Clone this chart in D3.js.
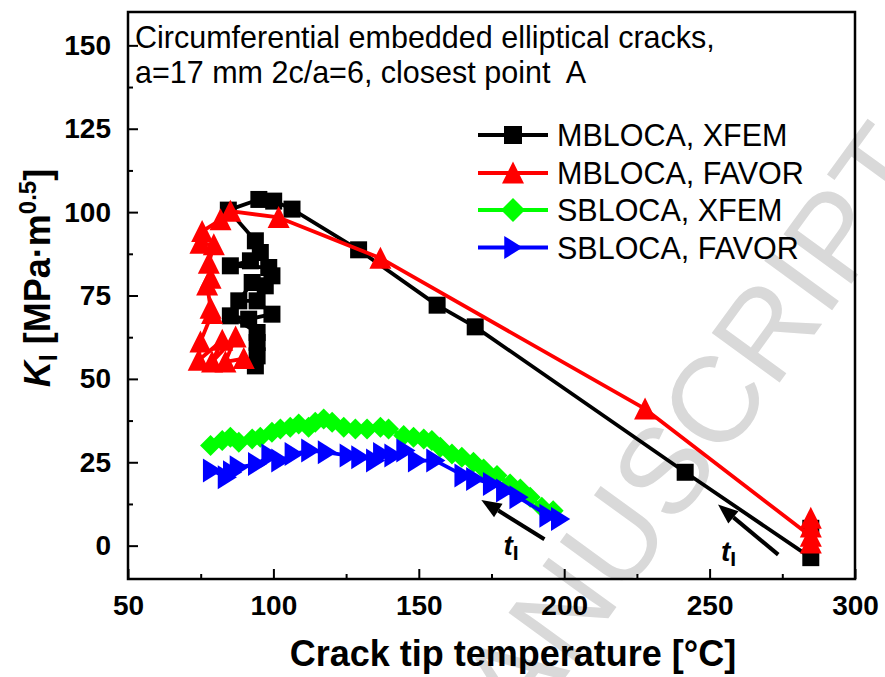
<!DOCTYPE html>
<html>
<head>
<meta charset="utf-8">
<script src="https://cdn.jsdelivr.net/npm/d3@7"></script>
<style>
  html, body { margin: 0; padding: 0; background: #fff; }
  svg { display: block; font-family: "Liberation Sans", Arial, Helvetica, sans-serif; }
</style>
</head>
<body>
<svg id="chart" width="885" height="677"></svg>
<script>
// ---- data ---------------------------------------------------------------
const xTicks = [50, 100, 150, 200, 250, 300];
const xMinorTicks = [75, 125, 175, 225, 275];
const yTicks = [0, 25, 50, 75, 100, 125, 150];
const yMinorTicks = [12.5, 37.5, 62.5, 87.5, 112.5, 137.5];

const seriesNames = ["MBLOCA, XFEM", "MBLOCA, FAVOR", "SBLOCA, XFEM", "SBLOCA, FAVOR"];

// [crack tip temperature (°C), K_I (MPa·m^0.5)], in transient time order
const mblocaXfem = [
  [284.8, 5.2], [284.8, -3.6], [241.6, 22.0], [169.4, 65.6], [156.3, 72.1],
  [129.3, 88.7], [106.4, 100.9], [100.1, 103.3], [95.0, 103.8], [84.5, 100.6],
  [93.8, 91.4], [95.5, 87.9], [92.1, 85.4], [85.2, 83.9], [98.4, 83.4],
  [99.5, 80.9], [97.2, 77.9], [92.7, 78.9], [88.1, 73.4], [94.4, 73.4],
  [99.5, 69.4], [91.5, 67.9], [85.2, 68.9], [94.4, 63.9], [94.4, 60.9],
  [94.4, 56.9], [93.8, 53.9]
];
const mblocaFavor = [
  [284.8, 0.8], [284.8, 8.2], [284.8, 5.6], [284.8, 2.8], [227.8, 41.0],
  [136.8, 86.2], [101.8, 98.4], [85.2, 100.3], [81.8, 97.7], [75.5, 94.2],
  [74.9, 90.7], [79.5, 90.2], [77.8, 84.7], [78.4, 80.2], [77.2, 78.2],
  [78.4, 71.2], [78.9, 69.6], [74.9, 61.1], [74.3, 55.6], [82.4, 61.6],
  [78.9, 55.1], [87.0, 62.6], [83.5, 55.1], [89.8, 56.1]
];
const sblocaXfem = [
  [196.2, 10.5], [192.3, 11.5], [188.3, 14.5], [184.9, 17.0], [181.4, 18.5],
  [176.9, 21.0], [172.3, 23.0], [168.8, 25.0], [164.8, 26.5], [161.4, 27.5],
  [157.4, 29.5], [154.5, 31.5], [151.7, 32.0], [148.2, 32.5], [144.8, 33.0],
  [139.6, 35.0], [136.8, 35.5], [132.2, 35.0], [128.2, 35.0], [124.2, 35.5],
  [120.2, 37.0], [117.3, 38.0], [114.4, 37.0], [112.1, 35.5], [108.7, 36.5],
  [105.8, 35.5], [102.4, 35.0], [99.5, 34.0], [95.5, 32.5], [92.7, 32.0],
  [88.1, 31.0], [85.2, 32.5], [82.4, 31.5], [78.4, 30.0]
];
const sblocaFavor = [
  [198.6, 8.0], [194.6, 9.0], [184.3, 14.5], [179.7, 16.5], [175.2, 18.5],
  [169.4, 20.0], [165.4, 21.0], [155.7, 25.5], [149.4, 25.5], [145.4, 28.5],
  [141.3, 27.0], [137.4, 27.5], [135.0, 25.5], [129.9, 26.5], [125.9, 27.0],
  [118.4, 28.0], [112.7, 28.5], [107.0, 27.5], [102.4, 25.5], [99.0, 27.0],
  [94.4, 24.5], [88.1, 23.5], [85.8, 22.0], [84.0, 20.5], [78.9, 22.5]
];

const noteLines = ["Circumferential embedded elliptical cracks,", "a=17 mm 2c/a=6, closest point  A"];

// time-direction arrows: [tail, head] in data units
const timeArrows = [
  [[193.2, 1.9], [171.5, 13.7]],
  [[273.6, -2.7], [252.9, 12.3]]
];
const arrowLabelPos = [[179.1, -2.8], [253.9, -4.6]];

// ---- layout -------------------------------------------------------------
const svg = d3.select("#chart");
const W = 885, H = 677;
const plot = { left: 128, right: 855, top: 12, bottom: 579 };

const x = d3.scaleLinear().domain([50, 300]).range([plot.left, plot.right]);
const y = d3.scaleLinear().domain([-10, 160]).range([plot.bottom, plot.top]);

svg.append("rect").attr("width", W).attr("height", H).attr("fill", "#fff");

// light diagonal watermark behind the plot
svg.append("text")
  .attr("transform", "translate(700,492) rotate(-54)")
  .attr("text-anchor", "middle")
  .attr("font-size", 122)
  .attr("fill", "#d9d9d9")
  .text("MANUSCRIPT");

// ---- marker shapes (size = nominal extent in px) ------------------------
const shapeSquare = { draw(c, s) { const h = s / 2; c.moveTo(-h, -h); c.lineTo(h, -h); c.lineTo(h, h); c.lineTo(-h, h); c.closePath(); } };
const shapeTriUp = { draw(c, s) { c.moveTo(0, -s * 0.52); c.lineTo(s * 0.5, s * 0.48); c.lineTo(-s * 0.5, s * 0.48); c.closePath(); } };
const shapeDiamond = { draw(c, s) { const h = s / 2; c.moveTo(0, -h); c.lineTo(h, 0); c.lineTo(0, h); c.lineTo(-h, 0); c.closePath(); } };
const shapeTriRight = { draw(c, s) { c.moveTo(s * 0.42, 0); c.lineTo(-s * 0.38, -s * 0.5); c.lineTo(-s * 0.38, s * 0.5); c.closePath(); } };

const series = [
  { name: seriesNames[0], data: mblocaXfem, color: "#000000", shape: shapeSquare, size: 17, legendSize: 18 },
  { name: seriesNames[1], data: mblocaFavor, color: "#ff0000", shape: shapeTriUp, size: 22, legendSize: 22 },
  { name: seriesNames[2], data: sblocaXfem, color: "#00ff00", shape: shapeDiamond, size: 21, legendSize: 24 },
  { name: seriesNames[3], data: sblocaFavor, color: "#0000ff", shape: shapeTriRight, size: 24, legendSize: 23 }
];

// ---- axes ---------------------------------------------------------------
const tickFont = 28;
svg.append("g").attr("transform", `translate(0,${plot.bottom})`)
  .call(d3.axisBottom(x).tickValues(xTicks).tickSizeInner(-10).tickSizeOuter(0).tickPadding(16).tickFormat(d3.format("d")));
svg.append("g").attr("transform", `translate(0,${plot.bottom})`)
  .call(d3.axisBottom(x).tickValues(xMinorTicks).tickSizeInner(-5).tickSizeOuter(0).tickFormat(""));
svg.append("g").attr("transform", `translate(${plot.left},0)`)
  .call(d3.axisLeft(y).tickValues(yTicks).tickSizeInner(-10).tickSizeOuter(0).tickPadding(17).tickFormat(d3.format("d")));
svg.append("g").attr("transform", `translate(${plot.left},0)`)
  .call(d3.axisLeft(y).tickValues(yMinorTicks).tickSizeInner(-5).tickSizeOuter(0).tickFormat(""));

svg.selectAll(".domain").remove();
svg.selectAll(".tick line").attr("stroke", "#000").attr("stroke-width", 2);
svg.selectAll(".tick text")
  .attr("font-family", '"Liberation Sans", Arial, sans-serif')
  .attr("font-size", tickFont).attr("font-weight", "bold").attr("fill", "#000");

// plot frame
svg.append("rect")
  .attr("x", plot.left).attr("y", plot.top)
  .attr("width", plot.right - plot.left).attr("height", plot.bottom - plot.top)
  .attr("fill", "none").attr("stroke", "#000").attr("stroke-width", 2.5);

// axis titles
svg.append("text")
  .attr("x", 513).attr("y", 666)
  .attr("text-anchor", "middle")
  .attr("font-size", 36).attr("font-weight", "bold")
  .text("Crack tip temperature [°C]");

const yt = svg.append("text")
  .attr("transform", "translate(50,278) rotate(-90)")
  .attr("text-anchor", "middle")
  .attr("font-size", 36).attr("font-weight", "bold");
yt.append("tspan").attr("font-style", "italic").text("K");
yt.append("tspan").attr("font-size", 25).attr("dy", 7).text("I");
yt.append("tspan").attr("dy", -7).text(" [MPa\u00B7m");
yt.append("tspan").attr("font-size", 24).attr("dy", -14).text("0.5");
yt.append("tspan").attr("dy", 14).text("]");

// ---- series -------------------------------------------------------------
const line = d3.line().x(d => x(d[0])).y(d => y(d[1]));
series.forEach(s => {
  const g = svg.append("g");
  g.append("path").datum(s.data)
    .attr("d", line).attr("fill", "none")
    .attr("stroke", s.color).attr("stroke-width", 3.8).attr("stroke-linejoin", "round");
  g.selectAll("path.m").data(s.data).join("path").attr("class", "m")
    .attr("transform", d => `translate(${x(d[0])},${y(d[1])})`)
    .attr("d", d3.symbol().type(s.shape).size(s.size))
    .attr("fill", s.color);
});

// ---- note text ----------------------------------------------------------
svg.selectAll("text.note").data(noteLines).join("text").attr("class", "note")
  .attr("x", 135).attr("y", (d, i) => 48 + i * 35)
  .attr("font-size", 30.5).attr("fill", "#000")
  .style("white-space", "pre")
  .text(d => d);

// ---- legend -------------------------------------------------------------
const legend = svg.append("g");
const legendY = [135, 173, 210, 247.5];
series.forEach((s, i) => {
  const ly = legendY[i];
  legend.append("line").attr("x1", 478).attr("x2", 548).attr("y1", ly).attr("y2", ly)
    .attr("stroke", s.color).attr("stroke-width", 3.8);
  legend.append("path").attr("transform", `translate(513,${ly})`)
    .attr("d", d3.symbol().type(s.shape).size(s.legendSize)).attr("fill", s.color);
  legend.append("text").attr("x", 557).attr("y", ly + 11)
    .attr("font-size", 30.5).attr("fill", "#000").text(s.name);
});

// ---- time arrows --------------------------------------------------------
timeArrows.forEach(([tail, head]) => {
  const x0 = x(tail[0]), y0 = y(tail[1]), x1 = x(head[0]), y1 = y(head[1]);
  const ang = Math.atan2(y1 - y0, x1 - x0);
  const len = 20, hw = 8;
  const bx = x1 - len * Math.cos(ang), by = y1 - len * Math.sin(ang);
  svg.append("line").attr("x1", x0).attr("y1", y0).attr("x2", bx).attr("y2", by)
    .attr("stroke", "#000").attr("stroke-width", 4);
  const pts = [
    [x1, y1],
    [bx + hw * Math.sin(ang), by - hw * Math.cos(ang)],
    [bx - hw * Math.sin(ang), by + hw * Math.cos(ang)]
  ];
  svg.append("path").attr("d", "M" + pts.map(p => p.join(",")).join("L") + "Z").attr("fill", "#000");
});
arrowLabelPos.forEach(p => {
  const t = svg.append("text").attr("x", x(p[0])).attr("y", y(p[1]))
    .attr("font-weight", "bold").attr("font-size", 28);
  t.append("tspan").attr("font-style", "italic").text("t");
  t.append("tspan").attr("font-size", 21).attr("dy", 5).text("I");
});
</script>
</body>
</html>
